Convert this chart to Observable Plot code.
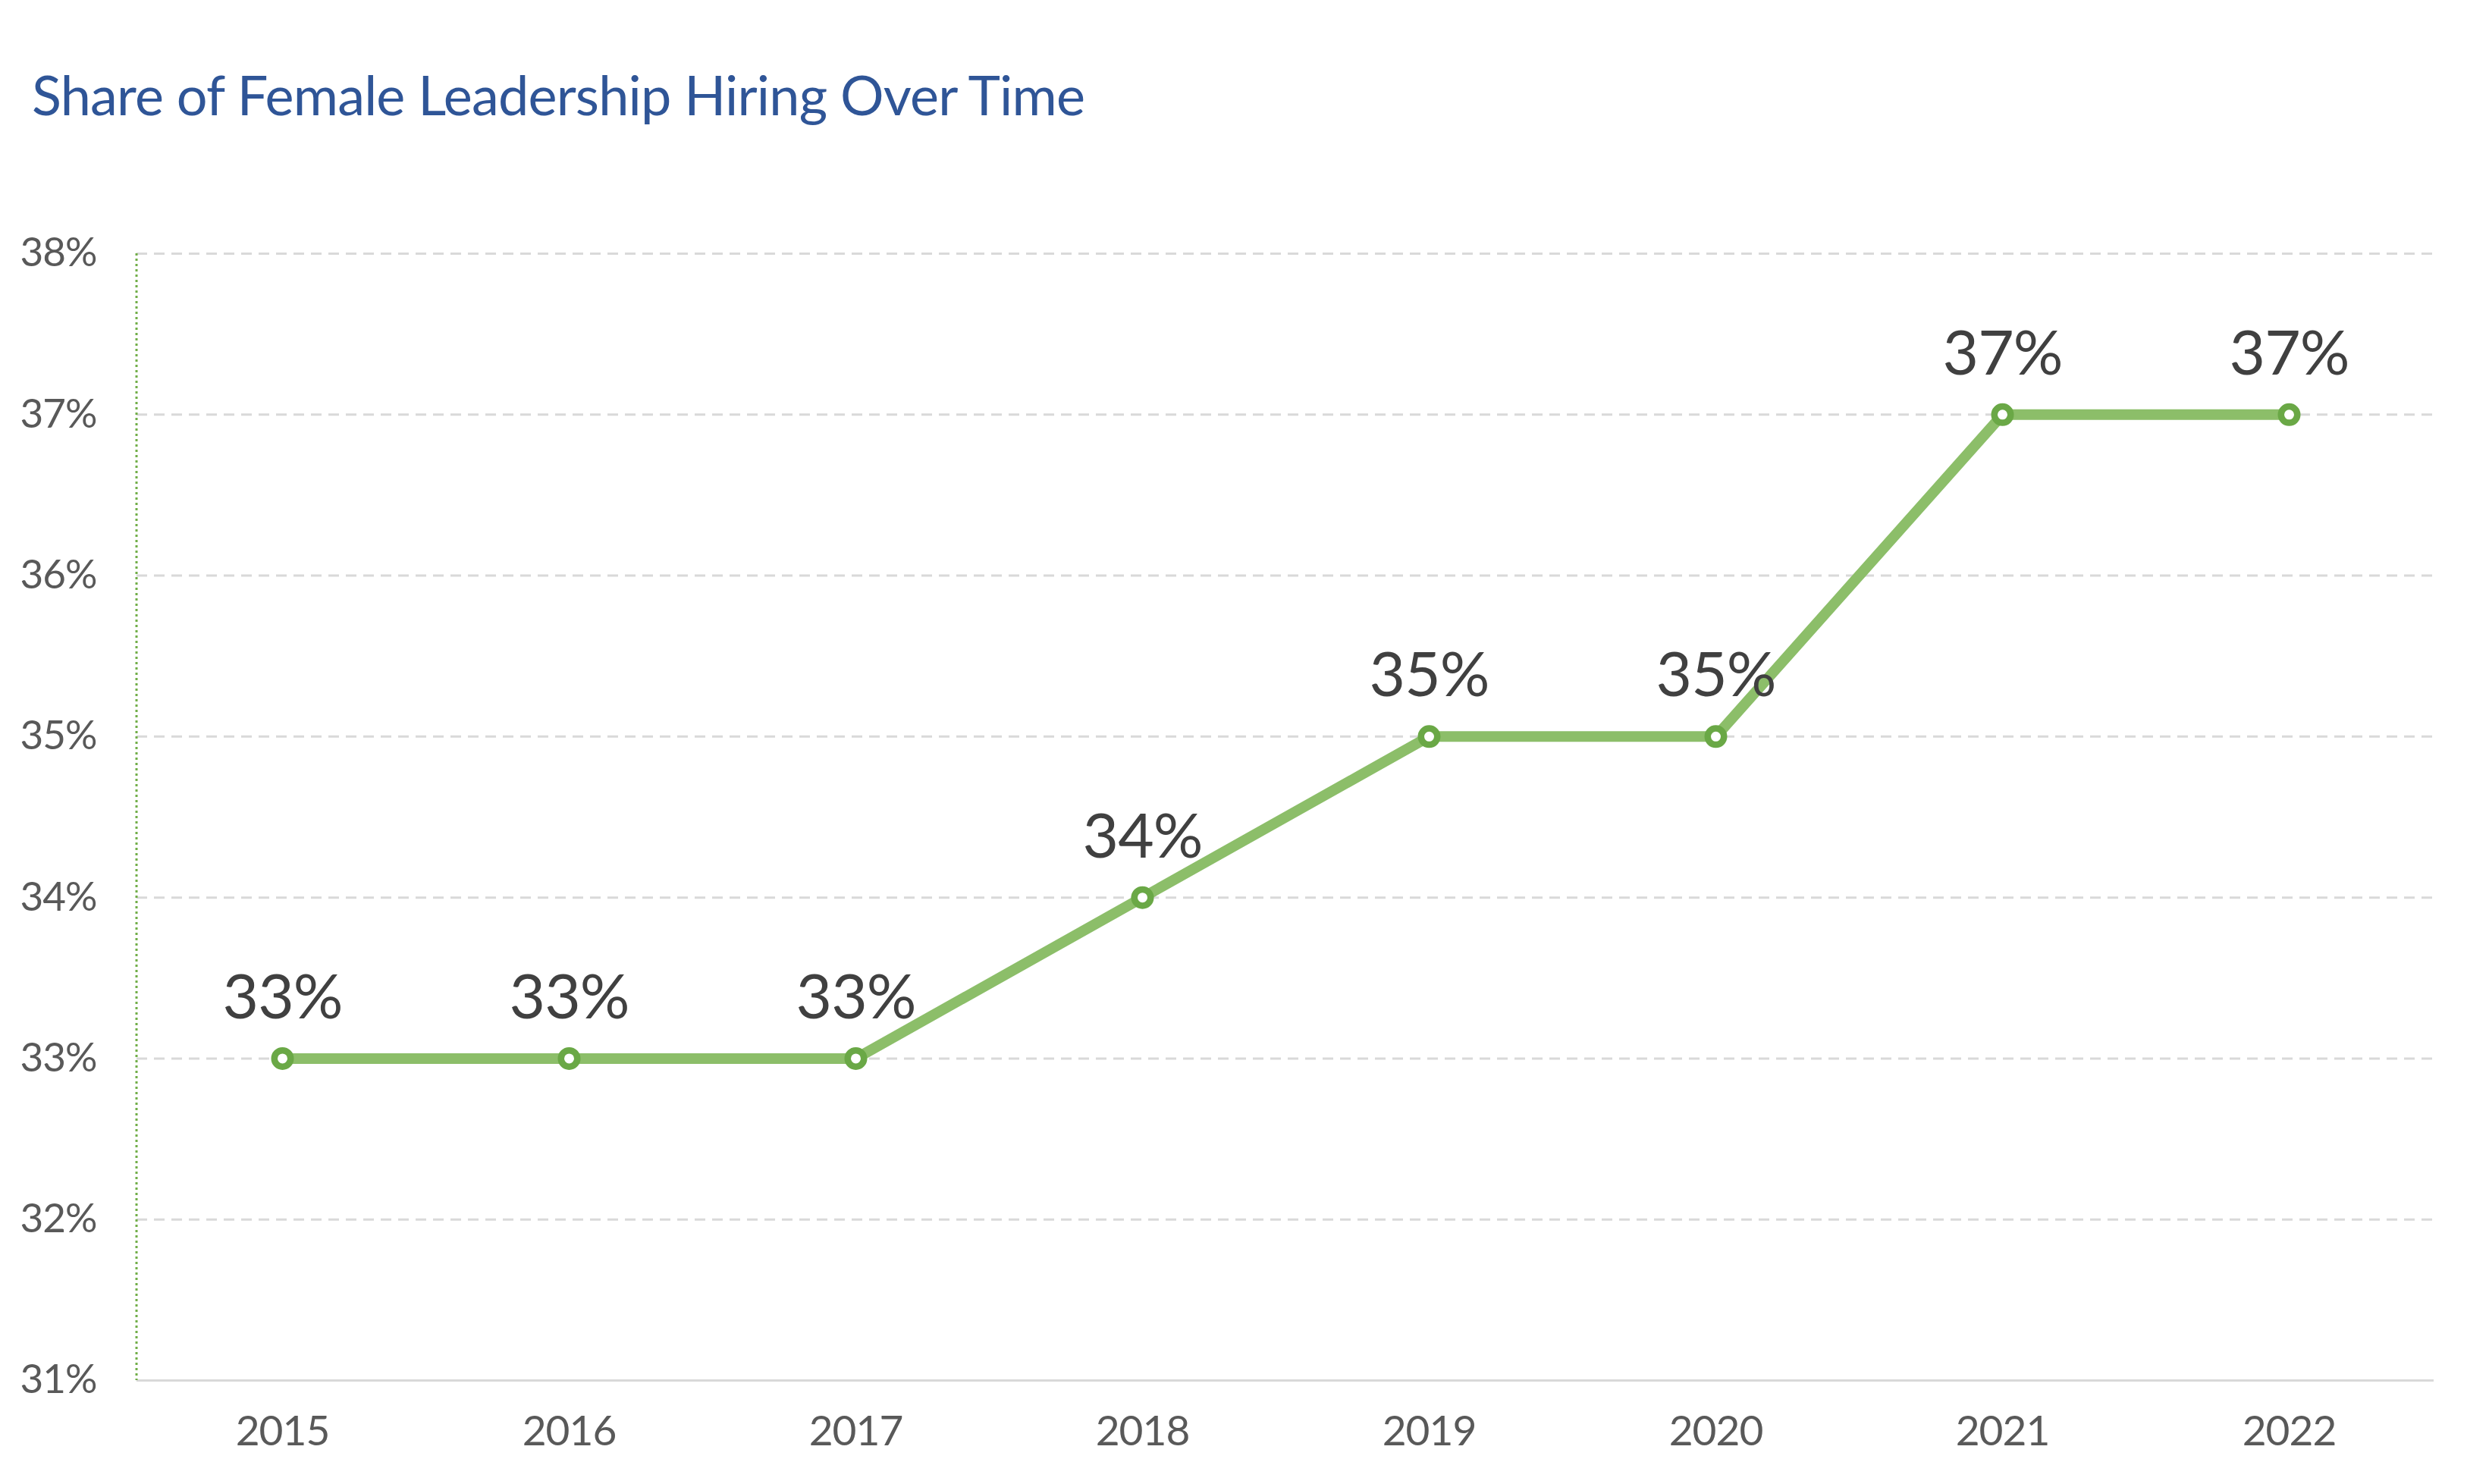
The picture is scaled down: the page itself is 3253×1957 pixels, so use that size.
<!DOCTYPE html>
<html>
<head>
<meta charset="utf-8">
<script src="https://cdn.jsdelivr.net/npm/d3@7"></script>
<script src="https://cdn.jsdelivr.net/npm/@observablehq/plot@0.6"></script>
<style>
  html, body { margin: 0; padding: 0; background: #ffffff; }
  #wrap { position: relative; width: 3253px; height: 1957px; overflow: hidden; }
  #title { position: absolute; left: 42px; top: 88px; font-family: Lato, "Open Sans", sans-serif;
           font-size: 72px; line-height: 1; color: #2f5597; white-space: nowrap; letter-spacing: -0.8px; }
  #chart { position: absolute; left: 0; top: 200px; }
  #chart svg text { letter-spacing: -1px; }
</style>
</head>
<body>
<div id="wrap">
  <div id="title">Share of Female Leadership Hiring Over Time</div>
  <div id="chart"></div>
</div>
<script>
const years = ["2015", "2016", "2017", "2018", "2019", "2020", "2021", "2022"];
const shares = [33, 33, 33, 34, 35, 35, 37, 37];
const yTicks = [31, 32, 33, 34, 35, 36, 37, 38];
const gridTicks = [32, 33, 34, 35, 36, 37, 38];

const data = years.map((year, i) => ({year, share: shares[i]}));

const leftAxisLine = (index, scales, values, dims) => {
  const ns = "http://www.w3.org/2000/svg";
  const l = document.createElementNS(ns, "line");
  l.setAttribute("x1", dims.marginLeft);
  l.setAttribute("x2", dims.marginLeft);
  l.setAttribute("y1", dims.marginTop);
  l.setAttribute("y2", dims.height - dims.marginBottom);
  l.setAttribute("stroke", "#70ad47");
  l.setAttribute("stroke-width", 3);
  l.setAttribute("stroke-dasharray", "3,4");
  return l;
};

const chart = Plot.plot({
  width: 3253,
  height: 1757,
  marginTop: 134,
  marginBottom: 137,
  marginLeft: 180,
  marginRight: 44,
  style: {fontFamily: "Lato, 'Open Sans', sans-serif", background: "#ffffff"},
  x: {type: "point", domain: years, padding: 0.5, label: null},
  y: {domain: [31, 38], label: null},
  marks: [
    Plot.ruleY(gridTicks, {stroke: "#d9d9d9", strokeWidth: 3, strokeDasharray: "14,9"}),
    Plot.ruleY([31], {stroke: "#d9d9d9", strokeWidth: 3}),
    leftAxisLine,
    Plot.axisY(yTicks, {tickSize: 0, tickPadding: 53, fontSize: 53, fill: "#595959",
      tickFormat: d => d + "%", label: null}),
    Plot.axisX({tickSize: 0, tickPadding: 46, fontSize: 55, fill: "#595959", label: null}),
    Plot.line(data, {x: "year", y: "share", stroke: "#8cbe69", strokeWidth: 14, strokeLinejoin: "round"}),
    Plot.dot(data, {x: "year", y: "share", r: 10.75, fill: "#ffffff", stroke: "#6aa846", strokeWidth: 8.5}),
    Plot.text(data, {x: "year", y: "share", text: d => d.share + "%", dy: -53, lineAnchor: "bottom",
      fontSize: 82, fill: "#404040", textAnchor: "middle"})
  ]
});
document.getElementById("chart").appendChild(chart);
</script>
</body>
</html>
